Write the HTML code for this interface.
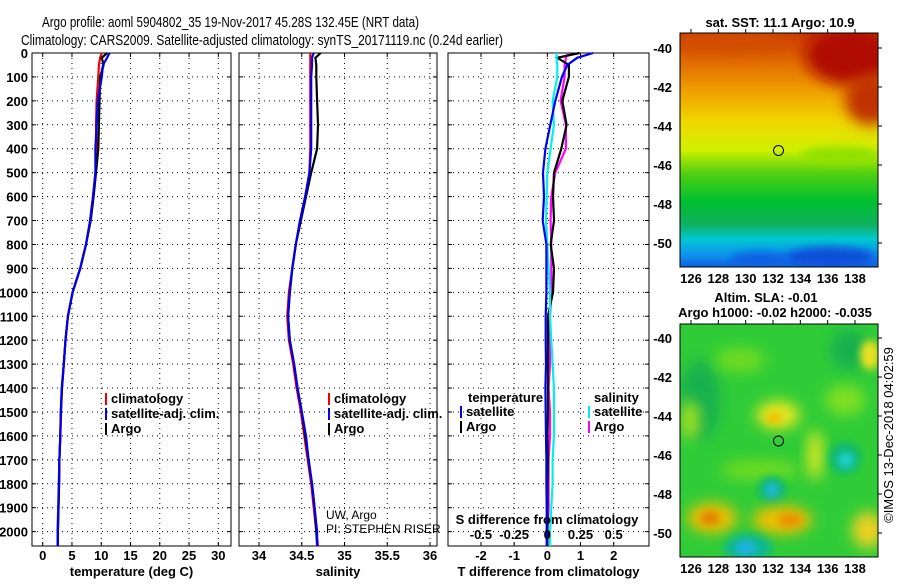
<!DOCTYPE html>
<html><head><meta charset="utf-8"><style>
body{margin:0;background:#fff;}
svg text{font-family:"Liberation Sans",sans-serif;}
.b{font-weight:bold;font-size:13px;}
.n{font-weight:normal;font-size:12px;}
</style></head><body>
<svg id="fig" width="900" height="580" viewBox="0 0 900 580" xmlns="http://www.w3.org/2000/svg">
<defs>
<linearGradient id="sstg" x1="0" y1="0" x2="0" y2="1">
<stop offset="0" stop-color="#c83800"/><stop offset="0.12" stop-color="#e06800"/>
<stop offset="0.25" stop-color="#f0a000"/><stop offset="0.38" stop-color="#f0d800"/>
<stop offset="0.5" stop-color="#d0f000"/><stop offset="0.6" stop-color="#50d010"/>
<stop offset="0.72" stop-color="#00c030"/><stop offset="0.82" stop-color="#10b060"/>
<stop offset="0.88" stop-color="#00c8d0"/><stop offset="0.95" stop-color="#1090f0"/>
<stop offset="1" stop-color="#1060e0"/></linearGradient>
<filter id="bl" x="-50%" y="-50%" width="200%" height="200%"><feGaussianBlur stdDeviation="7"/></filter>
<filter id="bl2" x="-50%" y="-50%" width="200%" height="200%"><feGaussianBlur stdDeviation="4"/></filter>
<clipPath id="c1"><rect x="680" y="33" width="198" height="234"/></clipPath>
<clipPath id="c2"><rect x="680" y="324" width="198" height="233"/></clipPath>
</defs>
<text x="42" y="27" font-size="15" textLength="377" lengthAdjust="spacingAndGlyphs">Argo profile: aoml 5904802_35 19-Nov-2017 45.28S 132.45E (NRT data)</text>
<text x="21" y="45" font-size="15" textLength="482" lengthAdjust="spacingAndGlyphs">Climatology: CARS2009. Satellite-adjusted climatology: synTS_20171119.nc (0.24d earlier)</text>
<g id="plots"></g>
<g clip-path="url(#c1)">
<rect x="680" y="33" width="198" height="234" fill="url(#sstg)"/>
<ellipse cx="850" cy="55" rx="45" ry="30" fill="#b01000" filter="url(#bl)"/>
<ellipse cx="870" cy="100" rx="25" ry="25" fill="#c03000" filter="url(#bl)"/>
<ellipse cx="730" cy="40" rx="60" ry="10" fill="#d05000" filter="url(#bl)"/>
<ellipse cx="840" cy="155" rx="40" ry="8" fill="#90e000" filter="url(#bl2)"/>
<ellipse cx="830" cy="257" rx="45" ry="10" fill="#1050d8" filter="url(#bl2)"/>
<ellipse cx="760" cy="260" rx="30" ry="8" fill="#1060e0" filter="url(#bl2)"/>
<circle cx="778.5" cy="150.5" r="5" fill="none" stroke="#000" stroke-width="1"/>
</g>
<rect x="680" y="33" width="198" height="234" fill="none" stroke="#000"/>
<g clip-path="url(#c2)">
<rect x="680" y="324" width="198" height="233" fill="#30cc38"/>
<ellipse cx="700" cy="400" rx="20" ry="40" fill="#18b050" filter="url(#bl)"/>
<ellipse cx="850" cy="350" rx="20" ry="20" fill="#18b050" filter="url(#bl)"/>
<ellipse cx="740" cy="360" rx="25" ry="12" fill="#70dc20" filter="url(#bl)"/>
<ellipse cx="845" cy="400" rx="20" ry="15" fill="#80e020" filter="url(#bl)"/>
<ellipse cx="690" cy="420" rx="10" ry="20" fill="#a0e020" filter="url(#bl)"/>
<ellipse cx="760" cy="470" rx="40" ry="10" fill="#70dc20" filter="url(#bl)"/>
<ellipse cx="778" cy="415" rx="22" ry="14" fill="#e8e820" filter="url(#bl)"/>
<ellipse cx="774" cy="418" rx="8" ry="6" fill="#f0c000" filter="url(#bl2)"/>
<ellipse cx="815" cy="455" rx="8" ry="25" fill="#d8e820" filter="url(#bl)"/>
<ellipse cx="870" cy="355" rx="10" ry="15" fill="#e8e020" filter="url(#bl2)"/>
<ellipse cx="845" cy="458" rx="16" ry="16" fill="#10b870" filter="url(#bl2)"/>
<ellipse cx="846" cy="460" rx="8" ry="8" fill="#20d0d0" filter="url(#bl2)"/>
<ellipse cx="772" cy="490" rx="14" ry="14" fill="#10b870" filter="url(#bl2)"/>
<ellipse cx="772" cy="490" rx="7" ry="7" fill="#20b8e8" filter="url(#bl2)"/>
<ellipse cx="712" cy="518" rx="25" ry="15" fill="#f0c000" filter="url(#bl)"/>
<ellipse cx="710" cy="518" rx="10" ry="7" fill="#e08000" filter="url(#bl2)"/>
<ellipse cx="782" cy="520" rx="30" ry="14" fill="#f0c000" filter="url(#bl)"/>
<ellipse cx="790" cy="520" rx="12" ry="7" fill="#e89000" filter="url(#bl2)"/>
<ellipse cx="748" cy="548" rx="24" ry="14" fill="#10b890" filter="url(#bl2)"/>
<ellipse cx="746" cy="548" rx="10" ry="7" fill="#20b0e8" filter="url(#bl2)"/>
<ellipse cx="868" cy="530" rx="16" ry="18" fill="#f0d020" filter="url(#bl)"/>
<circle cx="778.5" cy="441" r="5" fill="none" stroke="#000" stroke-width="1"/>
</g>
<rect x="680" y="324" width="198" height="233" fill="none" stroke="#000"/>
<text class="b" x="780" y="27" text-anchor="middle">sat. SST: 11.1 Argo: 10.9</text>
<text class="b" x="766" y="302" text-anchor="middle">Altim. SLA: -0.01</text>
<text class="b" x="775" y="317" text-anchor="middle">Argo h1000: -0.02 h2000: -0.035</text>
<text font-size="13" transform="translate(893,435) rotate(-90)" text-anchor="middle">©IMOS 13-Dec-2018 04:02:59</text>
</svg>
<script>
const NS="http://www.w3.org/2000/svg";
const depths=[0,20,50,100,200,300,400,500,600,700,800,900,1000,1100,1200,1300,1400,1500,1600,1700,1800,1900,2000,2060];
const tempClim=[10.1,9.8,9.6,9.5,9.2,9.1,9.2,9.0,8.6,8.1,7.4,6.4,5.1,4.3,3.9,3.6,3.3,3.15,3.0,2.85,2.8,2.7,2.6,2.55];
const tempSat=[11.4,11.0,10.3,10.1,9.4,9.2,9.0,9.0,8.6,8.1,7.4,6.4,5.1,4.3,3.9,3.6,3.25,3.1,3.0,2.85,2.75,2.65,2.55,2.55];
const tempArgo=[11.0,10.1,10.4,9.8,9.7,9.6,9.5,9.1,8.7,8.2,7.4,6.4,5.1,4.3,3.9,3.6,3.3,3.1,3.0,2.85,2.8,2.7,2.6,2.6];
const salClim=[34.60,34.60,34.60,34.60,34.60,34.60,34.60,34.59,34.54,34.48,34.43,34.39,34.35,34.33,34.35,34.40,34.44,34.49,34.53,34.57,34.61,34.64,34.67,34.69];
const salSat=[34.64,34.62,34.62,34.61,34.61,34.61,34.61,34.59,34.54,34.48,34.43,34.39,34.36,34.34,34.36,34.41,34.45,34.50,34.55,34.58,34.62,34.65,34.68,34.68];
const salArgo=[34.72,34.66,34.67,34.67,34.68,34.69,34.68,34.61,34.55,34.49,34.43,34.39,34.36,34.34,34.36,34.41,34.45,34.50,34.54,34.58,34.62,34.65,34.67,34.68];
const tDiffSat=[1.38,0.9,0.6,0.44,0.24,0.09,-0.06,-0.13,-0.1,-0.14,-0.03,-0.03,-0.03,-0.05,-0.05,-0.04,-0.06,-0.05,-0.04,-0.03,-0.03,-0.02,-0.02,-0.02];
const tDiffArgo=[0.97,0.3,0.65,0.65,0.45,0.58,0.42,0.2,0.17,0.2,0.1,0.2,0.17,0.02,0.02,0.02,0.02,0.02,0.0,0.02,0.0,0.0,0.0,0.0];
const sDiffSat=[0.07,0.07,0.075,0.075,0.04,0.05,0.025,0.0,-0.005,-0.01,0.0,0.01,0.02,0.02,0.03,0.04,0.05,0.05,0.05,0.04,0.04,0.03,0.02,0.02];
const sDiffArgo=[0.16,0.14,0.13,0.13,0.1,0.14,0.14,0.06,0.03,0.025,0.03,0.03,0.03,0.02,0.02,0.02,0.01,0.02,0.02,0.01,0.01,0.01,0.0,0.0];
const depthTicks=[0,100,200,300,400,500,600,700,800,900,1000,1100,1200,1300,1400,1500,1600,1700,1800,1900,2000];
const tempTicks=[0,5,10,15,20,25,30];
const salTicks=[34,34.5,35,35.5,36];
const tdTicks=[-2,-1,0,1,2];
const sdTickLabels=["-0.5","-0.25","0","0.25","0.5"];
const sdTicks=[-0.5,-0.25,0,0.25,0.5];
const mapLat=[-40,-42,-44,-46,-48,-50];
const mapLon=[126,128,130,132,134,136,138];

const TOP=53,BOT=546,DMAX=2060;
const yD=d=>TOP+d*(BOT-TOP)/DMAX;
const g=document.getElementById('plots');
function el(tag,attrs,parent){const e=document.createElementNS(NS,tag);for(const k in attrs)e.setAttribute(k,attrs[k]);(parent||g).appendChild(e);return e;}
function txt(x,y,s,anchor,cls,parent){const t=el('text',{x:x,y:y,'text-anchor':anchor||'start','class':cls||'b'},parent);t.textContent=s;return t;}

function panel(name,L,R,x0,x1,v0,v1,ticks,labels,xlabel){
  const xs=v=>x0+(v-v0)*(x1-x0)/(v1-v0);
  const pg=el('g',{});
  
  
  depthTicks.forEach(d=>{const l=el('line',{x1:L,x2:R,y1:yD(d),y2:yD(d),stroke:'#000','stroke-dasharray':'1,4'},pg);
    
    
    el('line',{x1:L,x2:L+4,y1:yD(d),y2:yD(d),stroke:'#000'},pg);el('line',{x1:R-4,x2:R,y1:yD(d),y2:yD(d),stroke:'#000'},pg);});
  ticks.forEach((t,i)=>{const x=xs(t);
    const l=el('line',{x1:x,x2:x,y1:TOP,y2:BOT,stroke:'#000','stroke-dasharray':'1,4'},pg);
    
    
    el('line',{x1:x,x2:x,y1:BOT-4,y2:BOT,stroke:'#000'},pg);el('line',{x1:x,x2:x,y1:TOP,y2:TOP+4,stroke:'#000'},pg);
    const t2=txt(x,560,labels[i],'middle','b',pg);
    
    });
  el('rect',{x:L,y:TOP,width:R-L,height:BOT-TOP,fill:'none',stroke:'#000'},pg);
  const xl=txt((L+R)/2,576,xlabel,'middle','b',pg);
  
  
  return {xs,pg};
}
function line(p,vals,color,name){
  const pts=depths.map((d,i)=>p.xs(vals[i]).toFixed(1)+','+yD(d).toFixed(1)).join(' ');
  const l=el('polyline',{points:pts,fill:'none',stroke:color,'stroke-width':2.2},p.pg);
  
  
}
function legend(pg,x,y,items){items.forEach((it,i)=>{
  const yy=y+i*15;
  el('rect',{x:x,y:yy-10,width:2,height:12,fill:it[1]},pg);
  const t=txt(x+6,yy,it[0],'start','b',pg);
  
  });}

const p1=panel('temperature-panel',32,231,42.7,218.3,0,30,tempTicks,tempTicks.map(String),'temperature (deg C)');
depthTicks.forEach(d=>{const t=txt(28,yD(d)+5,String(d),'end','b',p1.pg);
  
  });
line(p1,tempClim,'#f00000','temp-climatology-line');
line(p1,tempArgo,'#000','temp-argo-line');
line(p1,tempSat,'#0000f0','temp-satellite-line');
legend(p1.pg,105,403,[['climatology','#f00000'],['satellite-adj. clim.','#0000f0'],['Argo','#000']]);

const p2=panel('salinity-panel',239,437,259,430,34,36,salTicks,salTicks.map(String),'salinity');
line(p2,salClim,'#f00000','sal-climatology-line');
line(p2,salArgo,'#000','sal-argo-line');
line(p2,salSat,'#0000f0','sal-satellite-line');
legend(p2.pg,328,403,[['climatology','#f00000'],['satellite-adj. clim.','#0000f0'],['Argo','#000']]);
const c1=txt(326,519,'UW, Argo','start','n',p2.pg);


const c2=txt(326,533,'PI: STEPHEN RISER','start','n',p2.pg);



const p3=panel('difference-panel',448,649,481,613.7,-2,2,tdTicks,tdTicks.map(String),'T difference from climatology');
const sx=v=>547.3+v*132.7;
const ps={xs:sx,pg:p3.pg};
line(ps,sDiffArgo,'#ff00ff','s-diff-argo-line');
line(p3,tDiffArgo,'#000','t-diff-argo-line');
line(ps,sDiffSat,'#00f0f0','s-diff-satellite-line');
line(p3,tDiffSat,'#0000f0','t-diff-satellite-line');
sdTicks.forEach((v,i)=>{const t=txt(sx(v),539,sdTickLabels[i],'middle','b',p3.pg);
  
  });
const st=txt(547,524,'S difference from climatology','middle','b',p3.pg);


const lt1=txt(468,402,'temperature','start','b',p3.pg);


legend(p3.pg,460,416,[['satellite','#0000f0'],['Argo','#000']]);
const lt2=txt(594,402,'salinity','start','b',p3.pg);


legend(p3.pg,588,416,[['satellite','#00f0f0'],['Argo','#ff00ff']]);

const fig=document.getElementById('fig');
function mapAxes(top,y40,y50,bottom){
  const latY=v=>y40+(v+40)*(y50-y40)/(-10);
  const lonX=v=>691+(v-126)*(855-691)/12;
  mapLat.forEach(v=>{const y=latY(v);
    el('line',{x1:878,x2:882,y1:y,y2:y,stroke:'#000'},fig);
    const t=txt(672,y+5,String(v),'end','b',fig);
    
    });
  mapLon.forEach(v=>{const x=lonX(v);
    el('line',{x1:x,x2:x,y1:top-4,y2:top,stroke:'#000'},fig);
    const t=txt(x,bottom+16,String(v),'middle','b',fig);
    
    });
}
mapAxes(33,48,243,267);
mapAxes(324,338,533,557);
</script>
</body></html>
